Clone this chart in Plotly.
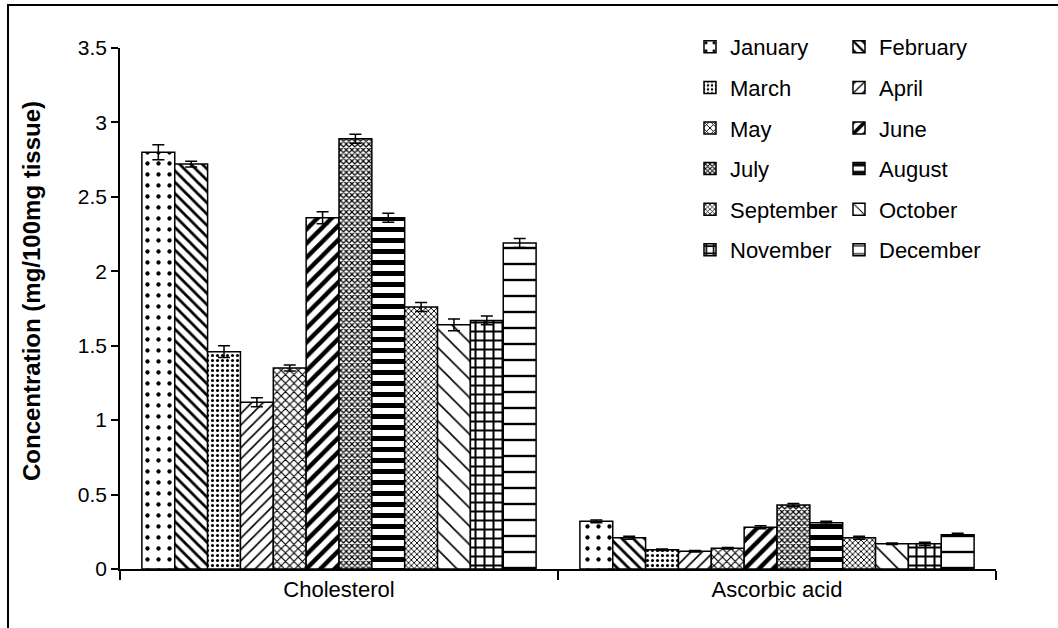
import plotly.graph_objects as go

categories = ["Cholesterol", "Ascorbic acid"]
months = ["January", "February", "March", "April", "May", "June",
          "July", "August", "September", "October", "November", "December"]
cholesterol = [2.80, 2.72, 1.46, 1.12, 1.35, 2.36, 2.89, 2.36, 1.76, 1.64, 1.67, 2.19]
cholesterol_err = [0.05, 0.02, 0.04, 0.03, 0.02, 0.04, 0.03, 0.03, 0.03, 0.04, 0.03, 0.03]
ascorbic = [0.32, 0.21, 0.13, 0.12, 0.14, 0.28, 0.43, 0.31, 0.21, 0.17, 0.17, 0.23]
ascorbic_err = [0.01, 0.01, 0.005, 0.005, 0.005, 0.01, 0.01, 0.01, 0.01, 0.005, 0.01, 0.01]
y_title = "Concentration (mg/100mg tissue)"

patterns = [
    dict(shape=".", size=11, solidity=0.12),
    dict(shape="\\", size=8, solidity=0.35),
    dict(shape=".", size=5, solidity=0.3),
    dict(shape="/", size=8, solidity=0.2),
    dict(shape="x", size=6, solidity=0.35),
    dict(shape="/", size=10, solidity=0.45),
    dict(shape="x", size=4, solidity=0.5),
    dict(shape="-", size=11, solidity=0.45),
    dict(shape="x", size=4, solidity=0.4),
    dict(shape="\\", size=13, solidity=0.12),
    dict(shape="+", size=9, solidity=0.4),
    dict(shape="-", size=16, solidity=0.15),
]

FONT = "Liberation Sans, Arial, sans-serif"

fig = go.Figure()
for i, m in enumerate(months):
    p = patterns[i]
    fig.add_trace(go.Bar(
        name=m,
        x=categories,
        y=[cholesterol[i], ascorbic[i]],
        error_y=dict(type="data", array=[cholesterol_err[i], ascorbic_err[i]],
                     color="black", thickness=1.5, width=6),
        marker=dict(color="white", line=dict(color="black", width=1.5),
                    pattern=dict(shape=p["shape"], size=p["size"], solidity=p["solidity"],
                                 fgcolor="black", bgcolor="white", fillmode="replace",
                                 fgopacity=1)),
        legend="legend" if i % 2 == 0 else "legend2",
        legendgroup=m,
    ))

W, H = 1058, 628
L, R, T, B = 120, 62, 48, 59
pw, ph = W - L - R, H - T - B

def px_x(x):
    return (x - L) / pw

def px_y(y):
    return (H - B - y) / ph

legend_common = dict(
    font=dict(family=FONT, size=22, color="black"),
    bgcolor="rgba(0,0,0,0)",
    tracegroupgap=9,
    itemwidth=30,
    yanchor="top",
    xanchor="left",
)

fig.update_layout(
    width=W, height=H,
    margin=dict(l=L, r=R, t=T, b=B),
    paper_bgcolor="white",
    plot_bgcolor="white",
    barmode="group",
    bargap=0.1,
    bargroupgap=0,
    font=dict(family=FONT, color="black"),
    legend=dict(x=px_x(690), y=px_y(26), **legend_common),
    legend2=dict(x=px_x(839), y=px_y(26), **legend_common),
    xaxis=dict(
        showline=True, linecolor="black", linewidth=1.5,
        ticks="outside", tickson="boundaries", ticklen=9, tickwidth=1.5, tickcolor="black",
        tickfont=dict(family=FONT, size=22, color="black"),
        showgrid=False,
    ),
    yaxis=dict(
        range=[0, 3.5], dtick=0.5,
        showline=True, linecolor="black", linewidth=1.5,
        ticks="outside", ticklen=7, tickwidth=1.5, tickcolor="black",
        tickfont=dict(family=FONT, size=21, color="black"),
        showgrid=False, zeroline=False,
    ),
)

fig.add_annotation(
    text="<b>" + y_title + "</b>", xref="paper", yref="paper",
    x=px_x(31), y=px_y(291), xanchor="center", yanchor="middle",
    textangle=-90, showarrow=False,
    font=dict(family=FONT, size=24, color="black"),
)

# outer frame of the chart (partially cropped like the original)
fig.add_shape(type="rect", xref="paper", yref="paper",
              x0=px_x(8), x1=px_x(1075), y0=px_y(645), y1=px_y(5),
              line=dict(color="black", width=2), fillcolor="rgba(0,0,0,0)", layer="below")

fig.write_html("out.html", config={"displayModeBar": False},
               post_script="document.body.style.margin='0';")
